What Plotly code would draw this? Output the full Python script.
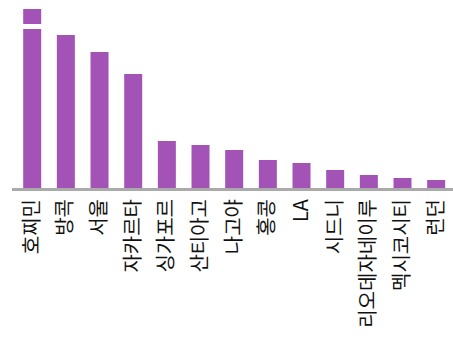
import plotly.graph_objects as go

cities = ["호찌민", "방콕", "서울", "자카르타", "싱가포르", "산티아고", "나고야",
          "홍콩", "LA", "시드니", "리오데자네이루", "멕시코시티", "런던"]
values = [179, 153, 136, 114, 47, 43, 38, 28, 25, 18, 13, 10, 8]
break_low = 159
break_high = 164

fig = go.Figure()
fig.add_trace(go.Bar(x=cities, y=values, marker=dict(color="#A353B5", line=dict(width=0))))

fig.add_shape(type="rect", xref="x", yref="y", x0=-0.45, x1=0.45,
              y0=break_low, y1=break_high, fillcolor="white", line=dict(width=0), layer="above")

fig.update_layout(
    width=453, height=338,
    margin=dict(l=12, r=0, t=8, b=150),
    plot_bgcolor="white", paper_bgcolor="white",
    bargap=0.465,
    showlegend=False,
    xaxis=dict(showline=True, linecolor="#AAAAAA", linewidth=3, ticks="",
               tickangle=-90, showgrid=False, range=[-0.6, 12.5],
               tickfont=dict(family="Noto Sans CJK KR", size=20, color="#111111")),
    yaxis=dict(visible=False, range=[0, 180], showgrid=False, zeroline=False),
)

fig.write_html("out.html")
